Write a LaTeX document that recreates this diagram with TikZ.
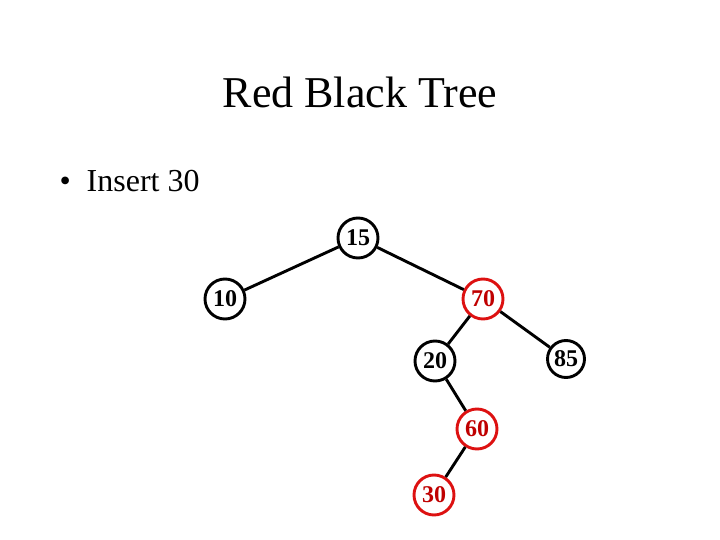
\documentclass[tikz,border=0pt]{standalone}
\usepackage{fontspec}
\setmainfont{Liberation Serif}
\usetikzlibrary{positioning}
\definecolor{rbRed}{HTML}{DD1111}
\definecolor{rbText}{HTML}{C00000}
\tikzset{
  blk/.style={circle, draw=black, line width=2.9pt, minimum size=40pt,
              inner sep=0pt, fill=white, font=\fontsize{24}{26}\selectfont\bfseries},
  red/.style={blk, draw=rbRed, text=rbText},
  ttl/.style={anchor=base, font=\fontsize{44}{50}\selectfont},
  txt/.style={anchor=base west, font=\fontsize{32}{38}\selectfont},
  edge/.style={draw=black, line width=2.9pt},
}

\begin{document}
\begin{tikzpicture}[x=1pt,y=-1pt]
        \useasboundingbox (0,0) rectangle (720,540);
        % heading
        \node[ttl] (title) at (360,108) {Red Black Tree};
        \node[txt] (insert) at (56,192) {\textbullet\ \ Insert 30};
        % tree
        \node[blk] (n15) at (358,238) {15};
        \node[blk] (n10) at (225,299) {10};
        \node[red] (n70) at (483,299) {70};
        \node[blk] (n20) at (435,361) {20};
        \node[blk,minimum size=37pt] (n85) at (566,359) {85};
        \node[red] (n60) at (477,429) {60};
        \node[red] (n30) at (434,495) {30};
        \foreach \a/\b in {n15/n10,n15/n70,n70/n20,n70/n85,n20/n60,n60/n30}{
          \draw[edge] (\a) -- (\b);}
      \end{tikzpicture}
\end{document}
